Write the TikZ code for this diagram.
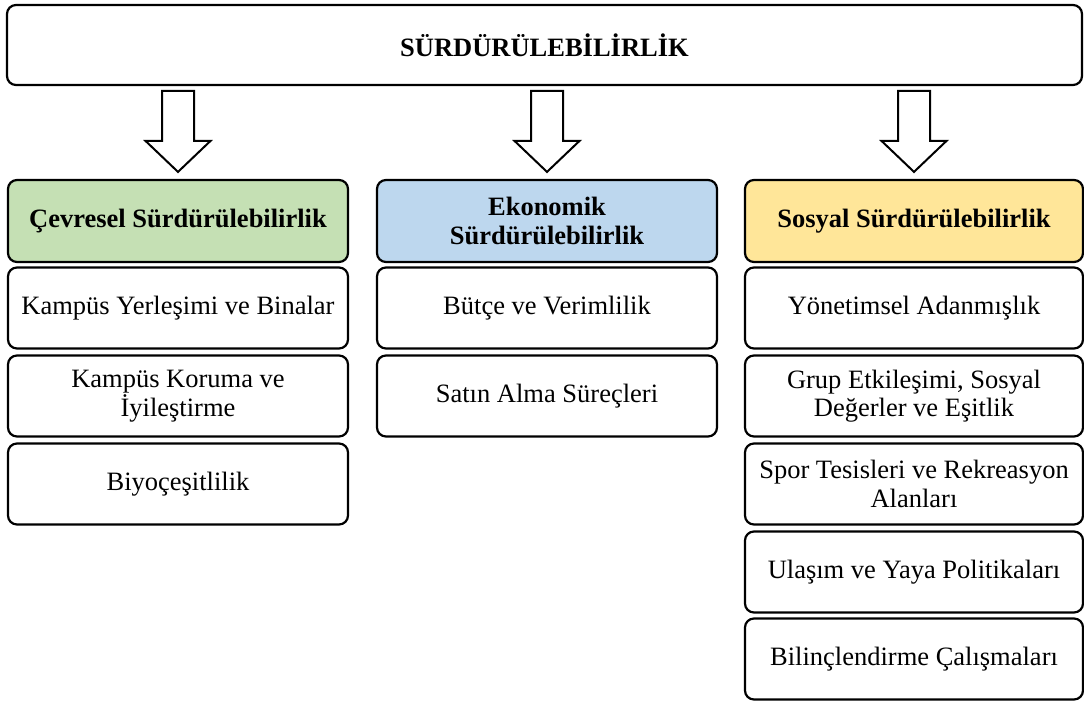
\documentclass[tikz,border=0pt]{standalone}
\usepackage{fontspec}
\setmainfont{Liberation Serif}
\usetikzlibrary{calc}
\definecolor{cgreen}{HTML}{C5E0B4}
\definecolor{cblue}{HTML}{BDD7EE}
\definecolor{cyellow}{HTML}{FFE699}
\begin{document}
\begin{tikzpicture}[x=1pt,y=-1pt,
  box/.style={draw=black, fill=white, line width=2.2pt, rounded corners=9pt, align=center,
    inner sep=0pt, font=\fontsize{26.5}{28.5}\selectfont},
  lbox/.style={box, minimum width=340pt, minimum height=81pt},
  rbox/.style={box, minimum width=338pt, minimum height=81pt},
  head/.style={font=\fontsize{26.5}{29}\selectfont\bfseries, minimum height=82pt},
  blockarrow/.style={draw=black, fill=white, line width=2pt, line join=miter}]
\useasboundingbox (0,0) rectangle (1084,701);

\node[box, minimum width=1075pt, minimum height=80pt, font=\fontsize{26.5}{28.5}\selectfont\bfseries] (top) at (544.5,45) {SÜRDÜRÜLEBİLİRLİK};

\node[lbox, head, fill=cgreen] (h1) at (178,221) {Çevresel Sürdürülebilirlik};
\node[lbox, head, fill=cblue] (h2) at (547,221) {Ekonomik\\Sürdürülebilirlik};
\node[rbox, head, fill=cyellow] (h3) at (914,221) {Sosyal Sürdürülebilirlik};

\node[lbox] (a1) at (178,308) {Kampüs Yerleşimi ve Binalar};
\node[lbox] (a2) at (178,396) {Kampüs Koruma ve\\İyileştirme};
\node[lbox] (a3) at (178,484) {Biyoçeşitlilik};

\node[lbox] (b1) at (547,308) {Bütçe ve Verimlilik};
\node[lbox] (b2) at (547,396) {Satın Alma Süreçleri};

\node[rbox] (c1) at (914,308) {Yönetimsel Adanmışlık};
\node[rbox] (c2) at (914,396) {Grup Etkileşimi, Sosyal\\Değerler ve Eşitlik};
\node[rbox] (c3) at (914,484) {Spor Tesisleri ve Rekreasyon\\Alanları};
\node[rbox] (c4) at (914,572) {Ulaşım ve Yaya Politikaları};
\node[rbox] (c5) at (914,659) {Bilinçlendirme Çalışmaları};

\foreach \n in {h1,h2,h3}{
  \draw[blockarrow] ($(\n.north)+(-16,-88)$) -- ($(\n.north)+(16,-88)$) -- ($(\n.north)+(16,-38)$)
    -- ($(\n.north)+(32.5,-38)$) -- ($(\n.north)+(0,-7)$) -- ($(\n.north)+(-32.5,-38)$)
    -- ($(\n.north)+(-16,-38)$) -- cycle;
}
\end{tikzpicture}
\end{document}
